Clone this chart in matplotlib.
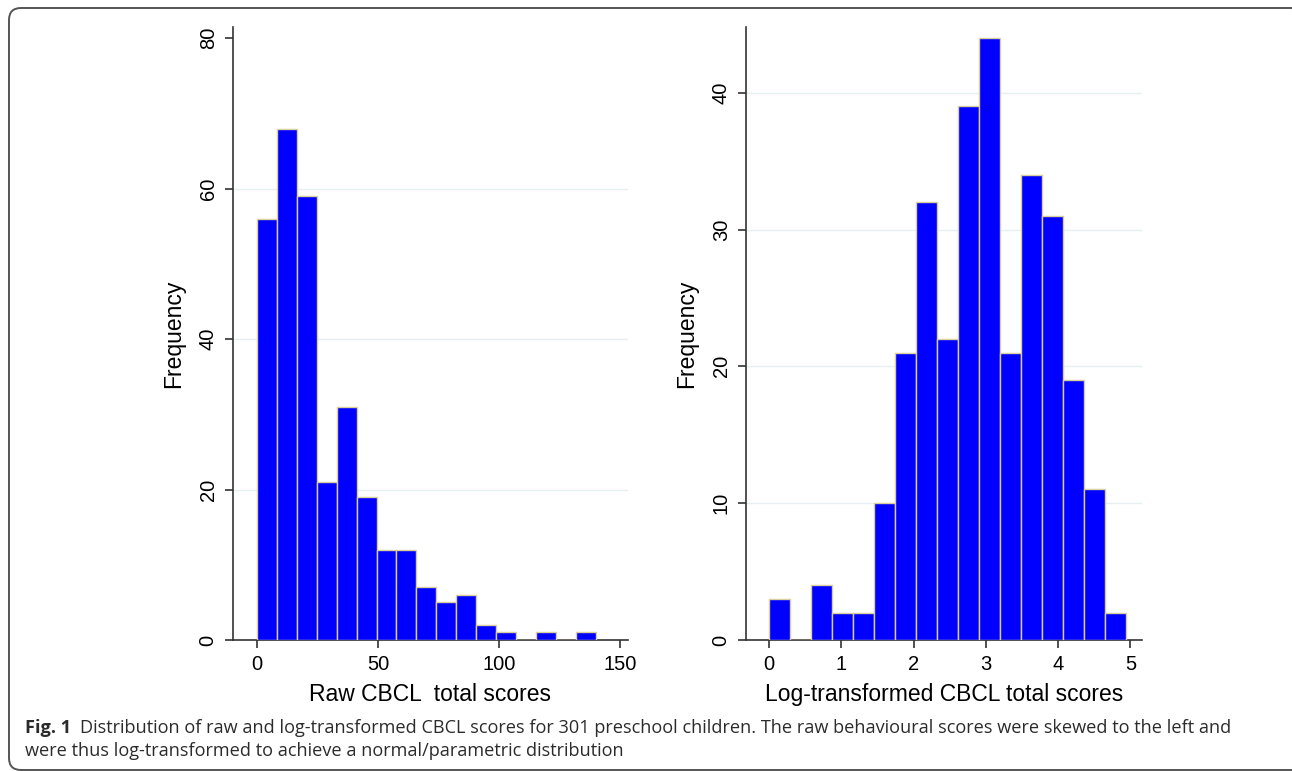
import numpy as np
import matplotlib
matplotlib.use("Agg")
import matplotlib.pyplot as plt
from matplotlib.patches import FancyBboxPatch

plt.rcParams['font.family'] = ['Liberation Sans', 'DejaVu Sans']

# raw CBCL scores: 17 bins of equal width from 0 to 140
raw_counts = [56, 68, 59, 21, 31, 19, 12, 12, 7, 5, 6, 2, 1, 0, 1, 0, 1]
raw_range = (0, 140)
# log-transformed scores: 17 bins from 0 to ln(140)
log_counts = [3, 0, 4, 2, 2, 10, 21, 32, 22, 39, 44, 21, 34, 31, 19, 11, 2]
log_range = (0, np.log(140))

raw_xticks = [0, 50, 100, 150]
raw_yticks = [0, 20, 40, 60, 80]
log_xticks = [0, 1, 2, 3, 4, 5]
log_yticks = [0, 10, 20, 30, 40]

W, H = 1292, 771
fig = plt.figure(figsize=(W / 100, H / 100), dpi=100)


def px_axes(x0, x1, y_top, y_bot):
    return fig.add_axes([x0 / W, 1 - y_bot / H, (x1 - x0) / W, (y_bot - y_top) / H])


def hist_panel(ax, counts, rng, xlim, ylim, xticks, yticks, xlabel):
    counts = np.asarray(counts)
    edges = np.linspace(rng[0], rng[1], len(counts) + 1)
    ax.bar(edges[:-1], counts, width=np.diff(edges), align='edge',
           color='#0000ff', edgecolor='#d9cf9c', linewidth=1.0, zorder=3)
    ax.set_xlim(*xlim)
    ax.set_ylim(*ylim)
    ax.set_xticks(xticks)
    ax.set_yticks(yticks)
    for s in ['top', 'right']:
        ax.spines[s].set_visible(False)
    for s in ['left', 'bottom']:
        ax.spines[s].set_color('#333333')
        ax.spines[s].set_linewidth(1.2)
    ax.tick_params(axis='both', direction='out', length=6, width=1.2,
                   color='#333333', labelsize=14.5, pad=5)
    plt.setp(ax.get_yticklabels(), rotation=90, va='center')
    for y in yticks[1:]:
        if y < ylim[1] - 2:
            ax.axhline(y, color='#e6f0f2', lw=1.0, zorder=1)
    ax.set_xlabel(xlabel, fontsize=16.5, labelpad=6)
    ax.set_ylabel('Frequency', fontsize=16.5, labelpad=10)


ax1 = px_axes(233, 628, 27, 640)
hist_panel(ax1, raw_counts, raw_range, (-9.9, 153.3), (0, 81.5),
           raw_xticks, raw_yticks, 'Raw CBCL  total scores')

ax2 = px_axes(746, 1142, 27, 640)
hist_panel(ax2, log_counts, log_range, (-0.32, 5.16), (0, 44.8),
           log_xticks, log_yticks, 'Log-transformed CBCL total scores')

# caption
cap_font = ['Open Sans', 'DejaVu Sans']
cap_size = 13.1
t_bold = fig.text(25 / W, 1 - 733 / H, 'Fig. 1', fontsize=cap_size, family=cap_font,
                  fontweight='bold', ha='left', va='baseline', color='#2b2b2b')
fig.canvas.draw()
bb = t_bold.get_window_extent()
fig.text((bb.x1 + 9) / W, 1 - 733 / H,
         'Distribution of raw and log-transformed CBCL scores for 301 preschool '
         'children. The raw behavioural scores were skewed to the left and',
         fontsize=cap_size, family=cap_font, ha='left', va='baseline', color='#2b2b2b')
fig.text(25 / W, 1 - 756 / H,
         'were thus log-transformed to achieve a normal/parametric distribution',
         fontsize=cap_size, family=cap_font, ha='left', va='baseline', color='#2b2b2b')

# rounded frame around the figure
frame = FancyBboxPatch((0.09, 0.01), 12.95, 7.62,
                       boxstyle='round,pad=0,rounding_size=0.12',
                       transform=fig.dpi_scale_trans, fill=False,
                       edgecolor='#555555', linewidth=1.4, clip_on=False)
fig.add_artist(frame)

fig.savefig('out.png', dpi=100)
